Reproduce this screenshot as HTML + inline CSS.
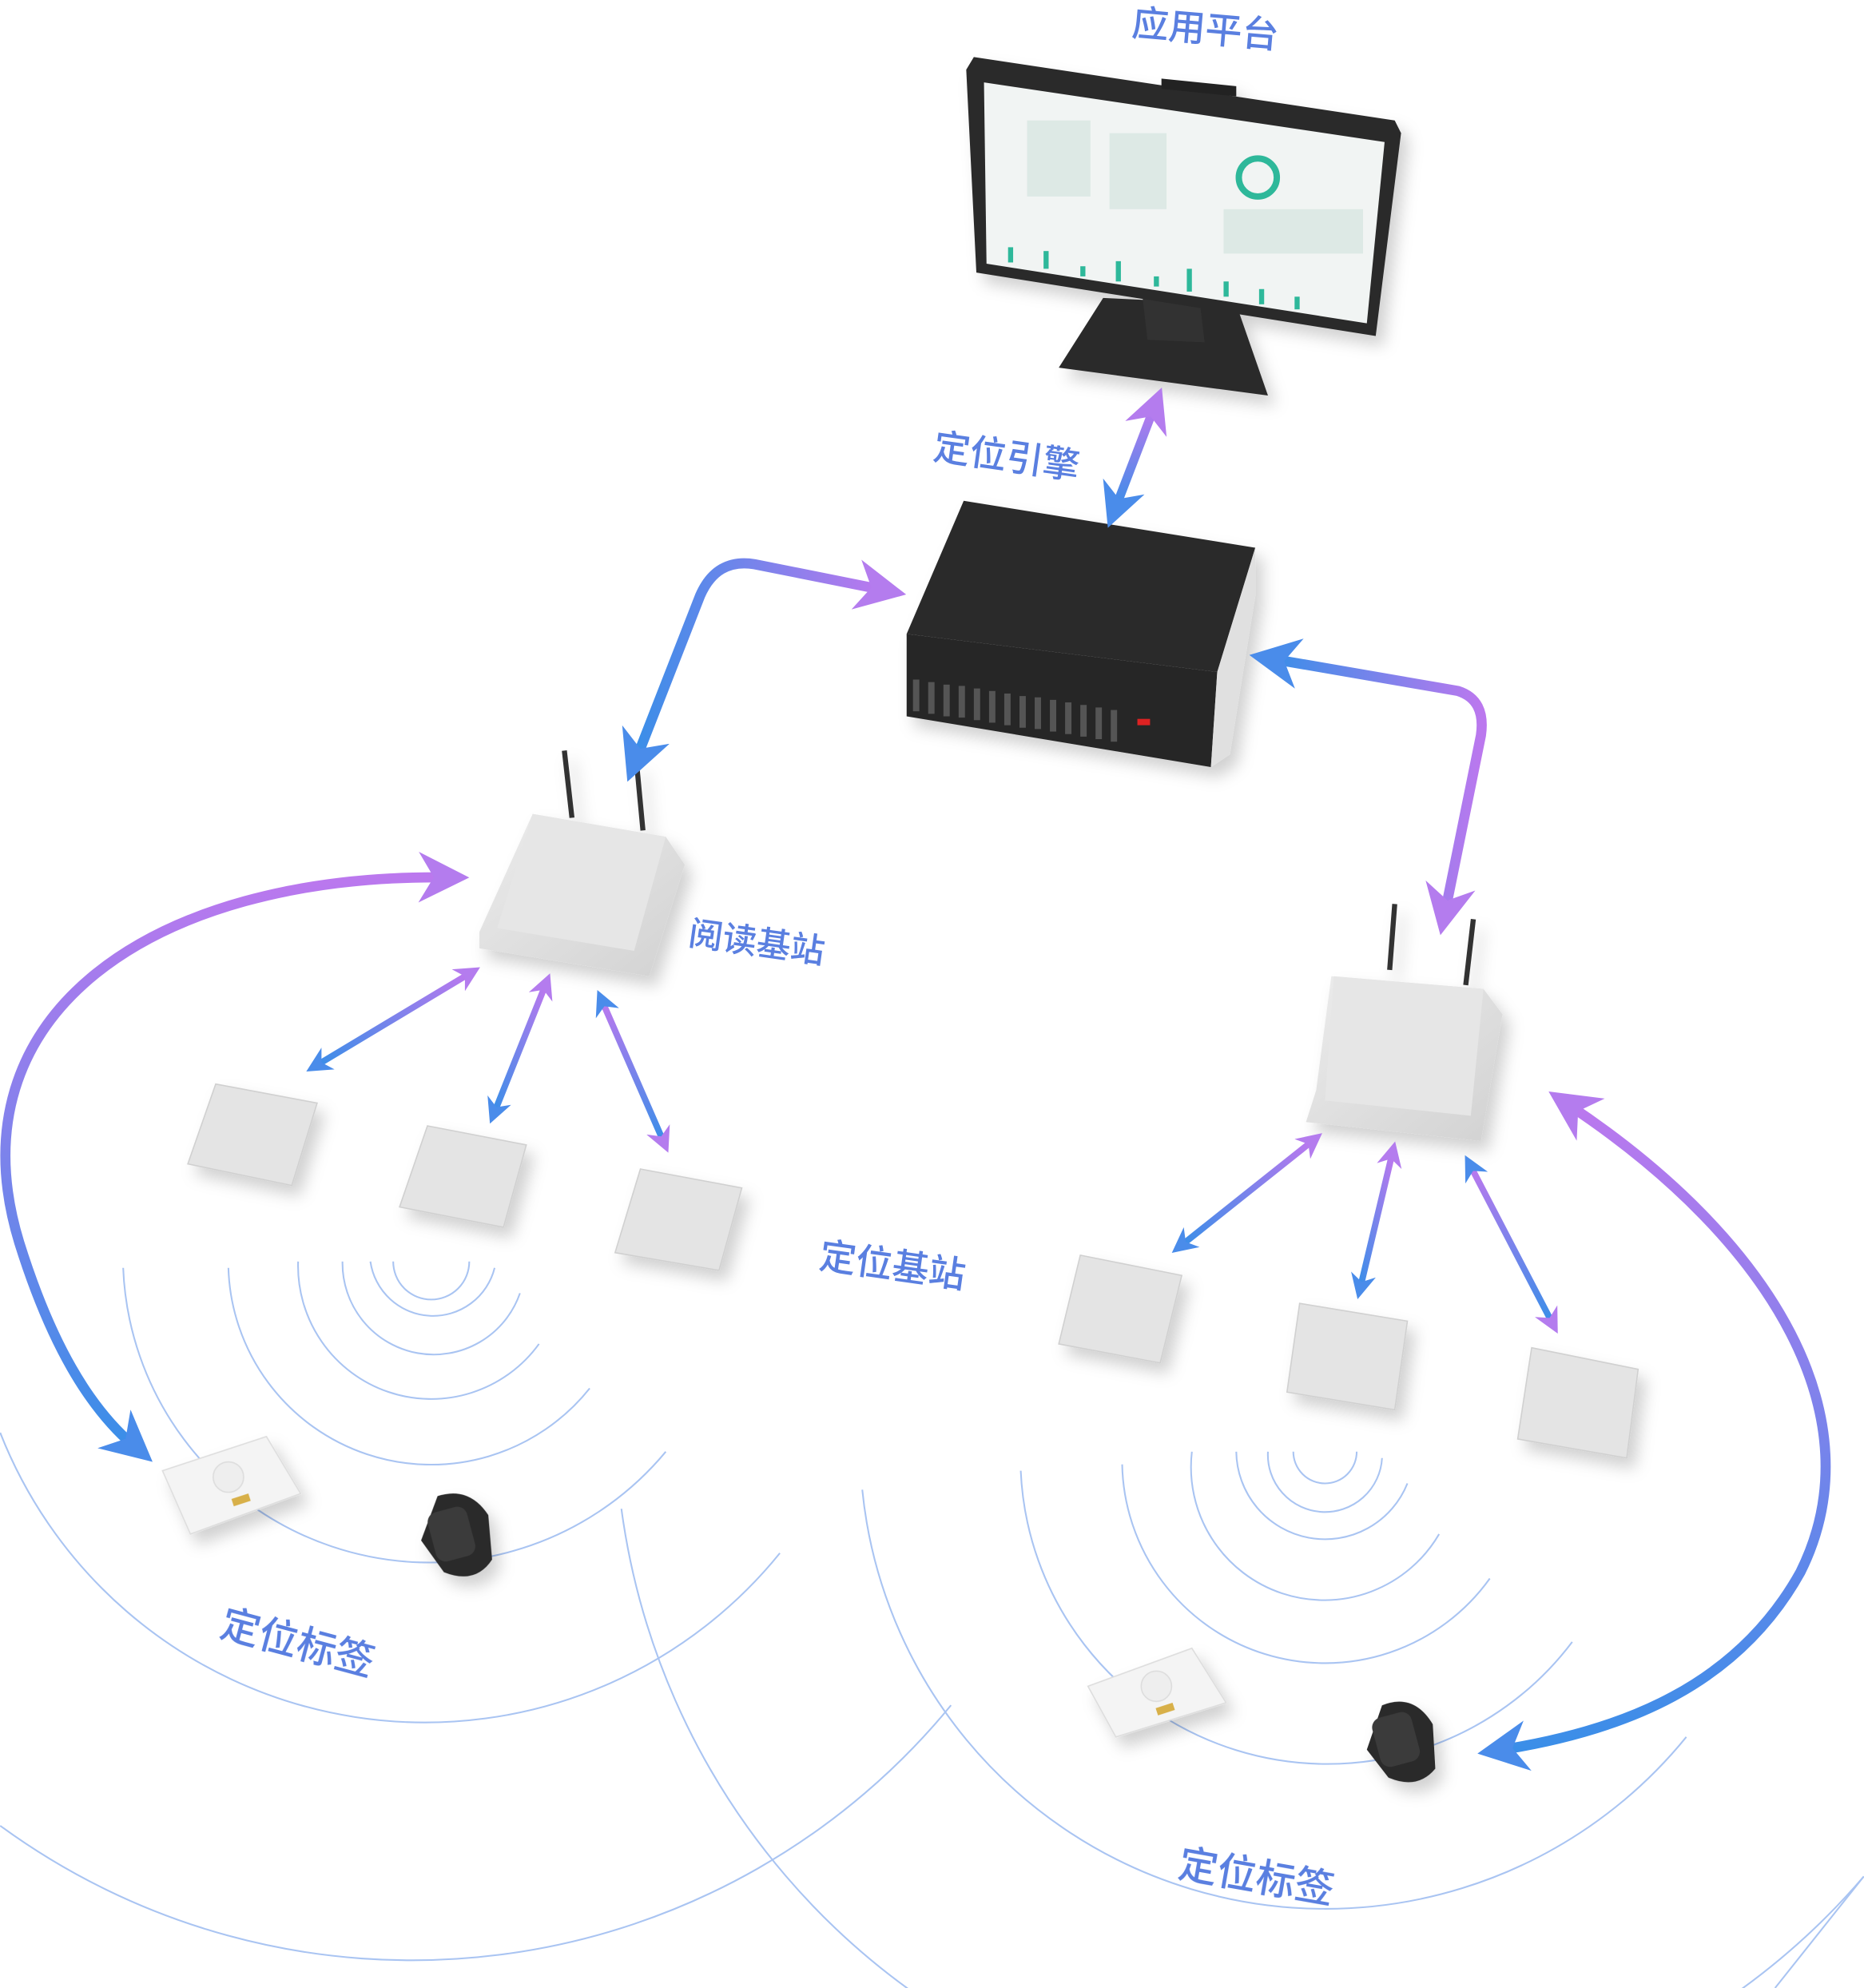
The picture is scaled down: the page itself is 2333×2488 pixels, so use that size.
<!DOCTYPE html>
<html><head><meta charset="utf-8"><style>
html,body{margin:0;padding:0;background:#fff;width:2333px;height:2488px;overflow:hidden;}
svg{display:block;}
text{font-family:"Liberation Sans","Noto Sans CJK SC",sans-serif;fill:#5a7fe0;font-weight:500;}
</style></head><body>
<svg width="2333" height="2488" viewBox="0 0 1470 1568" xmlns="http://www.w3.org/2000/svg">
<defs>
<linearGradient id="g1" x1="0" y1="1" x2="1" y2="0"><stop offset="0" stop-color="#3a8ee8"/><stop offset="1" stop-color="#bb78ee"/></linearGradient>
<linearGradient id="gv" x1="0" y1="1" x2="0" y2="0"><stop offset="0" stop-color="#3a8ee8"/><stop offset="1" stop-color="#bb78ee"/></linearGradient>
<linearGradient id="gv2" x1="0" y1="0" x2="0" y2="1"><stop offset="0" stop-color="#bb78ee"/><stop offset="1" stop-color="#3a8ee8"/></linearGradient>
<linearGradient id="gh" x1="0" y1="0" x2="1" y2="0"><stop offset="0" stop-color="#3a8ee8"/><stop offset="1" stop-color="#bb78ee"/></linearGradient>
<linearGradient id="plate" x1="0" y1="0" x2="1" y2="1"><stop offset="0" stop-color="#ececec"/><stop offset="1" stop-color="#d2d2d2"/></linearGradient>
<marker id="mb" viewBox="0 0 10 10" refX="5" refY="5" markerWidth="5" markerHeight="5" orient="auto-start-reverse"><path d="M0,0 L10,5 L0,10 L3,5z" fill="#4a8cea"/></marker>
<marker id="mp" viewBox="0 0 10 10" refX="5" refY="5" markerWidth="5" markerHeight="5" orient="auto-start-reverse"><path d="M0,0 L10,5 L0,10 L3,5z" fill="#b47cee"/></marker>
<marker id="mb2" viewBox="0 0 10 10" refX="5" refY="5" markerWidth="4" markerHeight="4" orient="auto-start-reverse"><path d="M0,0 L10,5 L0,10 L3,5z" fill="#4a8cea"/></marker>
<marker id="mp2" viewBox="0 0 10 10" refX="5" refY="5" markerWidth="4" markerHeight="4" orient="auto-start-reverse"><path d="M0,0 L10,5 L0,10 L3,5z" fill="#b47cee"/></marker>
<filter id="sh" x="-20%" y="-20%" width="150%" height="150%"><feDropShadow dx="6" dy="8" stdDeviation="6" flood-color="#000" flood-opacity="0.18"/></filter>
</defs>

<g fill="none" stroke="#a9c4f2" stroke-width="1.3">
<path d="M310,995 A30,30 0 0 0 370,995"/>
<path d="M292,995 A50,50 0 0 0 390,1000"/>
<path d="M270,995 A72,72 0 0 0 410,1020"/>
<path d="M235,995 A105,105 0 0 0 425,1060"/>
<path d="M180,1000 A160,160 0 0 0 465,1095"/>
<path d="M97,1000 A242,242 0 0 0 525,1145"/>
<path d="M0,1130 A360,360 0 0 0 615,1225"/>
<path d="M0,1440 A550,550 0 0 0 750,1345"/>
<path d="M1020,1145 A25,25 0 0 0 1070,1145"/>
<path d="M1000,1145 A45,45 0 0 0 1090,1150"/>
<path d="M975,1145 A70,70 0 0 0 1110,1170"/>
<path d="M940,1145 A105,105 0 0 0 1135,1210"/>
<path d="M885,1155 A160,160 0 0 0 1175,1245"/>
<path d="M805,1160 A242,242 0 0 0 1240,1295"/>
<path d="M680,1175 A367,367 0 0 0 1330,1370"/>
<path d="M490,1190 A560,560 0 0 0 1470,1480"/>
<path d="M1470,1480 L1400,1568"/>
</g>

<g filter="url(#sh)">
<polygon points="835,290 870,235 975,240 1000,312 " fill="#2a2a2a"/>
<polygon points="900,225 945,228 950,270 905,268" fill="#333"/>
<polygon points="768,45 1100,95 1105,105 1085,265 770,215 762,55" fill="#2b2b2b"/>
<polygon points="916,62 975,68 975,76 916,70" fill="#222"/>
<polygon points="776,65 1092,112 1078,255 778,208" fill="#f1f4f3"/>
<g fill="#2fb89a"><rect x="795" y="195" width="4" height="12"/><rect x="823" y="198" width="4" height="14"/><rect x="852" y="210" width="4" height="8"/><rect x="880" y="206" width="4" height="16"/><rect x="910" y="218" width="4" height="8"/><rect x="936" y="212" width="4" height="18"/><rect x="965" y="222" width="4" height="12"/><rect x="993" y="228" width="4" height="12"/><rect x="1021" y="234" width="4" height="10"/></g>
<circle cx="992" cy="140" r="15" fill="none" stroke="#2fb89a" stroke-width="5"/>
<g fill="#dde9e5"><rect x="810" y="95" width="50" height="60"/><rect x="875" y="105" width="45" height="60"/><rect x="965" y="165" width="110" height="35"/></g>
</g>

<g filter="url(#sh)">
<polygon points="760,395 990,432 960,530 715,500" fill="#2c2c2c"/>
<polygon points="715,500 960,530 955,605 715,565" fill="#262626"/>
<polygon points="960,530 990,432 990,470 970,595 955,605" fill="#e0e0e0"/>
<g fill="#555"><rect x="720" y="536" width="5" height="25"/><rect x="732" y="538" width="5" height="25"/><rect x="744" y="540" width="5" height="25"/><rect x="756" y="541" width="5" height="25"/><rect x="768" y="543" width="5" height="25"/><rect x="780" y="545" width="5" height="25"/><rect x="792" y="547" width="5" height="25"/><rect x="804" y="549" width="5" height="25"/><rect x="816" y="550" width="5" height="25"/><rect x="828" y="552" width="5" height="25"/><rect x="840" y="554" width="5" height="25"/><rect x="852" y="556" width="5" height="25"/><rect x="864" y="558" width="5" height="25"/><rect x="876" y="560" width="5" height="25"/></g>
<rect x="897" y="567" width="10" height="5" fill="#d22"/>
</g>

<g filter="url(#sh)">
<line x1="445" y1="592" x2="451" y2="645" stroke="#333" stroke-width="4"/>
<line x1="502" y1="602" x2="507" y2="655" stroke="#333" stroke-width="4"/>
<polygon points="420,642 525,660 540,682 512,770 378,748 378,735" fill="url(#plate)"/>
<polygon points="420,642 525,660 500,750 392,732" fill="#e6e6e6"/>
<line x1="1100" y1="713" x2="1096" y2="765" stroke="#333" stroke-width="4"/>
<line x1="1162" y1="725" x2="1156" y2="777" stroke="#333" stroke-width="4"/>
<polygon points="1050,770 1170,780 1185,800 1168,900 1030,885 1038,860" fill="url(#plate)"/>
<polygon points="1052,770 1170,780 1160,880 1045,868" fill="#e6e6e6"/>
</g>

<g filter="url(#sh)" fill="#e4e4e4" stroke="#d0d0d0">
<polygon points="170,855 250,870 230,935 148,918"/>
<polygon points="337,888 415,903 397,968 315,952"/>
<polygon points="505,922 585,937 567,1002 485,988"/>
<polygon points="852,990 932,1006 915,1075 835,1060"/>
<polygon points="1025,1028 1110,1042 1100,1112 1015,1098"/>
<polygon points="1208,1063 1292,1080 1283,1150 1197,1135"/>
</g>

<g filter="url(#sh)">
<polygon points="128,1160 210,1133 237,1178 150,1210" fill="#f4f4f4" stroke="#ddd"/>
<circle cx="180" cy="1165" r="12" fill="#eee" stroke="#ddd"/>
<rect x="183" y="1180" width="14" height="6" fill="#d8b048" transform="rotate(-18 190 1183)"/>
<polygon points="858,1330 940,1300 967,1343 880,1370" fill="#f4f4f4" stroke="#ddd"/>
<circle cx="912" cy="1330" r="12" fill="#eee" stroke="#ddd"/>
<rect x="912" y="1345" width="14" height="6" fill="#d8b048" transform="rotate(-18 919 1348)"/>
<path d="M345,1180 Q370,1172 385,1195 L388,1230 Q375,1250 350,1240 L332,1215 Z" fill="#2a2a2a"/>
<rect x="340" y="1190" width="32" height="40" rx="8" fill="#3a3a3a" transform="rotate(-15 356 1210)"/>
<path d="M1090,1345 Q1115,1335 1130,1360 L1132,1395 Q1118,1412 1095,1402 L1078,1380 Z" fill="#2a2a2a"/>
<rect x="1085" y="1352" width="32" height="40" rx="8" fill="#3a3a3a" transform="rotate(-15 1101 1372)"/>
</g>

<g fill="none" stroke-linecap="round">
<path d="M880,400 L910,322" stroke="url(#gv)" stroke-width="7" marker-start="url(#mb)" marker-end="url(#mp)"/>
<path d="M502,598 L552,470 Q565,440 595,445 L695,465" stroke="url(#gh)" stroke-width="8" marker-start="url(#mb)" marker-end="url(#mp)"/>
<path d="M1005,520 L1150,545 Q1172,552 1168,580 L1140,718" stroke="url(#gh)" stroke-width="8" marker-start="url(#mb)" marker-end="url(#mp)"/>
<path d="M350,692 C120,690 -40,800 15,980 C40,1060 70,1110 105,1140" stroke="url(#gv)" stroke-width="8" marker-start="url(#mp)" marker-end="url(#mb)"/>
<path d="M1238,872 C1400,980 1480,1120 1420,1240 C1370,1330 1280,1365 1185,1380" stroke="url(#gv2)" stroke-width="8" marker-start="url(#mp)" marker-end="url(#mb)"/>
<g stroke-width="5">
<path d="M250,840 L370,768" stroke="url(#g1)" marker-start="url(#mb2)" marker-end="url(#mp2)"/>
<path d="M390,877 L430,777" stroke="url(#g1)" marker-start="url(#mb2)" marker-end="url(#mp2)"/>
<path d="M523,900 L475,790" stroke="url(#gv)" marker-start="url(#mp2)" marker-end="url(#mb2)"/>
<path d="M932,982 L1035,900" stroke="url(#g1)" marker-start="url(#mb2)" marker-end="url(#mp2)"/>
<path d="M1073,1015 L1098,910" stroke="url(#g1)" marker-start="url(#mb2)" marker-end="url(#mp2)"/>
<path d="M1224,1043 L1160,920" stroke="url(#gv)" marker-start="url(#mp2)" marker-end="url(#mb2)"/>
</g>
</g>

<text x="892" y="28" font-size="29" transform="rotate(5 892 28)">应用平台</text>
<text x="735" y="362" font-size="29" transform="rotate(8 735 362)">定位引擎</text>
<text x="542" y="745" font-size="27" transform="rotate(8 542 745)">阅读基站</text>
<text x="645" y="1000" font-size="29" transform="rotate(8 645 1000)">定位基站</text>
<text x="172" y="1290" font-size="31" transform="rotate(15 172 1290)">定位标签</text>
<text x="928" y="1480" font-size="31" transform="rotate(10 928 1480)">定位标签</text>
</svg>
</body></html>
